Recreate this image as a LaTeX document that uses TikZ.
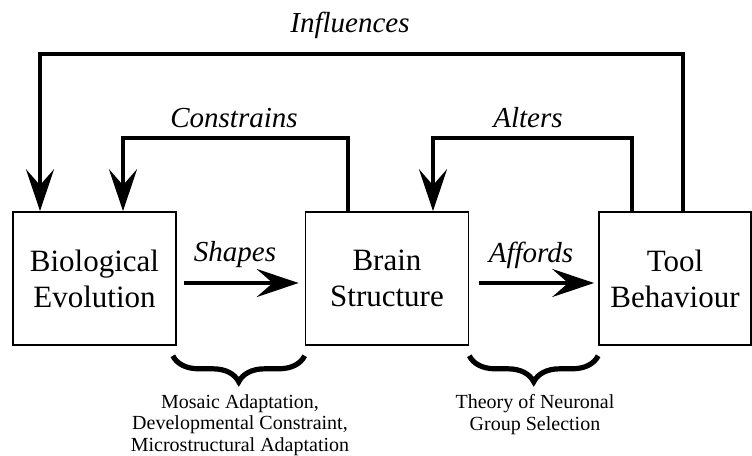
\documentclass[tikz,border=0pt]{standalone}
\usepackage{fontspec}
\setmainfont{Liberation Serif}
\usetikzlibrary{arrows.meta,decorations.pathreplacing,calc}

\tikzset{
  stage/.style={draw, line width=0.8pt, minimum width=81.5pt, minimum height=66.5pt,
    inner sep=0pt, align=center, font=\fontsize{15.5}{18}\selectfont},
  link/.style={line width=1.6pt, -{Stealth[length=21pt,width=14pt,inset=8pt]}},
  verb/.style={inner sep=0pt, font=\fontsize{14.5}{16}\selectfont\itshape},
  theory/.style={inner sep=0pt, align=center, font=\fontsize{10}{10.8}\selectfont},
  bracket/.style={decorate, decoration={brace, mirror, amplitude=13pt}, line width=2.6pt}
}

\begin{document}
\begin{tikzpicture}[x=0.5pt, y=-0.5pt]
    \useasboundingbox (0,0) rectangle (752,456);

    % the three stages
    \node[stage] (bio) at (94.5,278.5) {Biological\\Evolution};
    \node[stage] (brain) at (387,278.5) {Brain\\Structure};
    \node[stage, minimum width=76pt] (tool) at (675,278.5) {Tool\\Behaviour};

    % forward links
    \draw[link] ($(bio.east)+(7,4.5)$) -- ($(brain.west)+(-6,4.5)$);
    \node[verb] (shapes_lbl) at (235,255) {Shapes};
    \draw[link] ($(brain.east)+(10,4.5)$) -- ($(tool.west)+(-4,4.5)$);
    \node[verb] (affords_lbl) at (531,255) {Affords};

    % feedback loops
    \coordinate (infl_r) at (683,54);
    \coordinate (infl_l) at (40,54);
    \draw[link] (tool.north -| infl_r) -- (infl_r) -- (infl_l) -- (bio.north -| infl_l);
    \node[verb] (infl_lbl) at (350,25) {Influences};

    \coordinate (cons_r) at (348,138);
    \coordinate (cons_l) at (123,138);
    \draw[link] (brain.north -| cons_r) -- (cons_r) -- (cons_l) -- (bio.north -| cons_l);
    \node[verb] (cons_lbl) at (234,118) {Constrains};

    \coordinate (alt_r) at (632,138);
    \coordinate (alt_l) at (433,138);
    \draw[link] (tool.north -| alt_r) -- (alt_r) -- (alt_l) -- (brain.north -| alt_l);
    \node[verb] (alt_lbl) at (528,118) {Alters};

    % braces and theories
    \draw[bracket] ($(bio.south east)+(-4,10)$) -- ($(brain.south west)+(0,10)$);
    \node[theory, anchor=north] (mosaic) at (240,394)
    {Mosaic Adaptation,\\Developmental Constraint,\\Microstructural Adaptation};

    \draw[bracket] ($(brain.south east)+(0,10)$) -- ($(tool.south west)+(0,10)$);
    \node[theory, anchor=north] (tngs) at (535,394)
    {Theory of Neuronal\\Group Selection};

\end{tikzpicture}
\end{document}
